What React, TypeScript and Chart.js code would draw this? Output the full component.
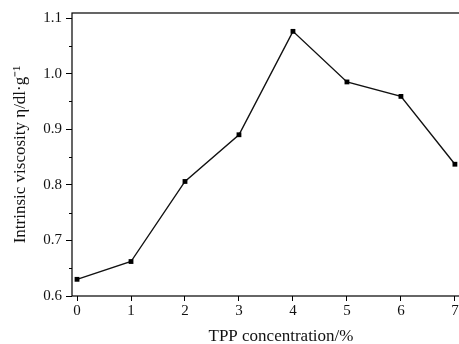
import React, { useEffect, useRef } from "react";
import { Chart, registerables } from "chart.js";

Chart.register(...registerables);

const concentrations = [0, 1, 2, 3, 4, 5, 6, 7];
const viscosity = [0.63, 0.662, 0.806, 0.89, 1.076, 0.985, 0.959, 0.837];
const xTickValues = [0, 1, 2, 3, 4, 5, 6, 7];
const yTickValues = [0.6, 0.7, 0.8, 0.9, 1.0, 1.1];
const yMinorValues = [0.65, 0.75, 0.85, 0.95, 1.05];
const xTitle = "TPP concentration/%";
const yTitle = "Intrinsic viscosity η/dl·g⁻¹";

const FONT = "'Liberation Serif', 'Times New Roman', serif";

const framePlugin = {
  id: "frame",
  afterDraw(chart: any) {
    const { ctx, chartArea } = chart;
    const y = chart.scales.y;
    ctx.save();
    ctx.strokeStyle = "#000";
    ctx.lineWidth = 1.2;
    ctx.strokeRect(chartArea.left, chartArea.top, chartArea.right - chartArea.left, chartArea.bottom - chartArea.top);
    ctx.lineWidth = 1;
    yMinorValues.forEach((v) => {
      const py = Math.round(y.getPixelForValue(v)) + 0.5;
      ctx.beginPath();
      ctx.moveTo(chartArea.left - 3, py);
      ctx.lineTo(chartArea.left, py);
      ctx.stroke();
    });
    ctx.restore();
  },
};

export default function App() {
  const ref = useRef<HTMLCanvasElement>(null);
  useEffect(() => {
    const chart = new Chart(ref.current!, {
      type: "line",
      data: {
        datasets: [
          {
            data: concentrations.map((c, i) => ({ x: c, y: viscosity[i] })),
            borderColor: "#111",
            backgroundColor: "#000",
            borderWidth: 1.4,
            pointStyle: "rect",
            pointRadius: 3.4,
            pointBorderWidth: 0,
            tension: 0,
          },
        ],
      },
      options: {
        animation: false,
        responsive: false,
        layout: { padding: { top: 12, left: 0, right: 10, bottom: 0 } },
        plugins: { legend: { display: false }, tooltip: { enabled: false } },
        scales: {
          x: {
            type: "linear",
            min: -0.093,
            max: 7.65,
            afterBuildTicks: (s: any) => {
              s.ticks = xTickValues.map((v) => ({ value: v }));
            },
            afterFit: (s: any) => {
              s.height = 48;
            },
            border: { display: false },
            grid: { drawOnChartArea: false, drawTicks: true, tickLength: 5, color: "#000", lineWidth: 1 },
            ticks: { color: "#111", font: { family: FONT, size: 15 }, padding: 1, maxRotation: 0 },
            title: { display: true, text: xTitle, color: "#111", font: { family: FONT, size: 17 }, padding: { top: 9, bottom: -3 } },
          },
          y: {
            min: 0.6,
            max: 1.109,
            afterBuildTicks: (s: any) => {
              s.ticks = yTickValues.map((v) => ({ value: v }));
            },
            afterFit: (s: any) => {
              s.width = 72;
            },
            border: { display: false },
            grid: { drawOnChartArea: false, drawTicks: true, tickLength: 6, color: "#000", lineWidth: 1 },
            ticks: {
              color: "#111",
              font: { family: FONT, size: 15 },
              padding: 4,
              callback: (v: any) => Number(v).toFixed(1),
            },
            title: { display: true, text: yTitle, color: "#111", font: { family: FONT, size: 17 }, padding: { top: 10, bottom: 4 } },
          },
        },
      },
      plugins: [framePlugin],
    });
    return () => chart.destroy();
  }, []);
  return (
    <div style={{ position: "fixed", left: 0, top: 0, width: 459, height: 344, overflow: "hidden", background: "#fff" }}>
      <canvas ref={ref} width={500} height={344} style={{ display: "block" }} />
    </div>
  );
}
